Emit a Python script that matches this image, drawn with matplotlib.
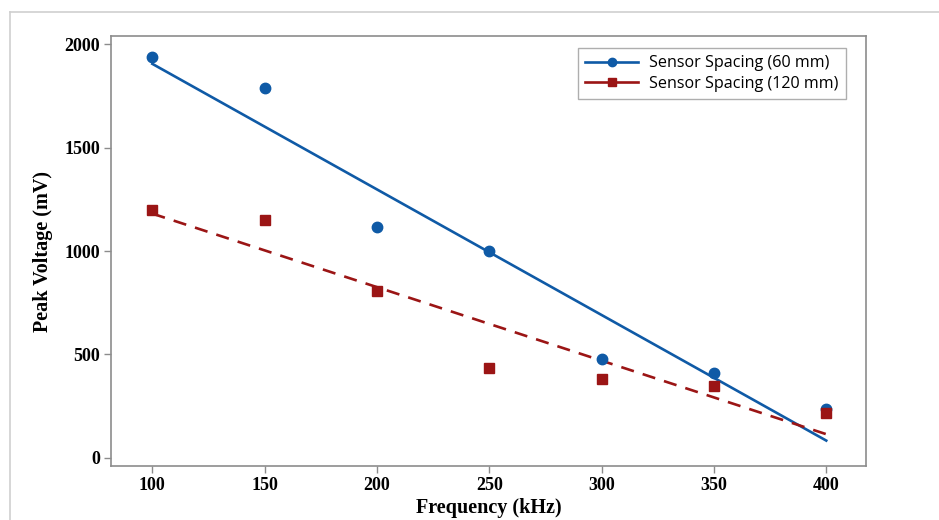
import numpy as np
import matplotlib
matplotlib.use("Agg")
import matplotlib.pyplot as plt
from matplotlib.lines import Line2D

# Measured peak voltage versus excitation frequency
frequency_khz = [100, 150, 200, 250, 300, 350, 400]
peak_60mm = [1936, 1786, 1116, 1000, 477, 409, 235]
peak_120mm = [1198, 1148, 808, 436, 380, 348, 216]
series_labels = ["Sensor Spacing (60 mm)", "Sensor Spacing (120 mm)"]
x_ticks = [100, 150, 200, 250, 300, 350, 400]
y_ticks = [0, 500, 1000, 1500, 2000]

blue = "#0f5aa6"
red = "#9b1515"
spine_gray = "#8c8c8c"

W, H = 939, 520
fig = plt.figure(figsize=(W / 100, H / 100), dpi=100)

# light outer frame around the figure area
fig.add_artist(Line2D([10 / W, 10 / W], [0, 1 - 12 / H], transform=fig.transFigure,
                      color="#cfcfcf", lw=1.2))
fig.add_artist(Line2D([10 / W, 1], [1 - 12 / H, 1 - 12 / H], transform=fig.transFigure,
                      color="#cfcfcf", lw=1.2))

ax = fig.add_axes([111 / W, 1 - 466 / H, (866 - 111) / W, (466 - 36) / H])

x = np.array(frequency_khz, dtype=float)

for y, color, marker, ms, ls, label in [
    (peak_60mm, blue, "o", 7.5, "-", series_labels[0]),
    (peak_120mm, red, "s", 7.5, (0, (5, 3.5)), series_labels[1]),
]:
    y = np.array(y, dtype=float)
    slope, intercept = np.polyfit(x, y, 1)
    xf = np.array([x.min(), x.max()])
    ax.plot(xf, slope * xf + intercept, color=color, lw=1.9, ls=ls, zorder=2)
    ax.plot(x, y, ls="none", marker=marker, ms=ms, color=color, mec=color, zorder=3)

ax.set_xlim(81.6, 417.7)
ax.set_ylim(-39, 2039)
ax.set_xticks(x_ticks)
ax.set_yticks(y_ticks)

tick_font = dict(family="Liberation Serif", weight="bold", size=13)
ax.set_xticklabels([str(t) for t in x_ticks], **tick_font)
ax.set_yticklabels([str(t) for t in y_ticks], **tick_font)
ax.tick_params(direction="out", length=5, width=1, color=spine_gray)
ax.tick_params(axis="x", pad=3)
ax.tick_params(axis="y", pad=3)

for s in ax.spines.values():
    s.set_color(spine_gray)
    s.set_linewidth(1.2)

label_font = dict(family="Liberation Serif", weight="bold", size=14.5)
ax.set_xlabel("Frequency (kHz)", labelpad=3, **label_font)
ax.set_ylabel("Peak Voltage (mV)", labelpad=8, **label_font)

handles = [
    Line2D([], [], color=blue, lw=1.9, marker="o", ms=6, label=series_labels[0]),
    Line2D([], [], color=red, lw=1.9, marker="s", ms=6, label=series_labels[1]),
]
leg = ax.legend(handles=handles, loc="upper right", bbox_to_anchor=(0.9735, 0.972),
                borderaxespad=0,
                prop=dict(family="Open Sans", size=11.6), frameon=True, fancybox=False,
                edgecolor="#9a9a9a", handlelength=3.3, borderpad=0.45,
                labelspacing=0.3, handletextpad=0.7)
leg.get_frame().set_linewidth(1.0)

fig.savefig("out.png", dpi=100)
